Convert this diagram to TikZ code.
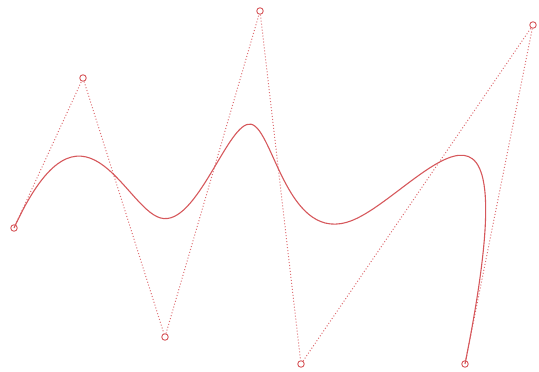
\documentclass[tikz,border=0pt]{standalone}
\definecolor{curvecol}{RGB}{214,88,92}
\definecolor{polycol}{RGB}{222,110,115}
\begin{document}
\begin{tikzpicture}[x=1pt,y=-1pt,
  ctrl/.style={circle,draw=curvecol,line width=0.9pt,minimum size=6.5pt,inner sep=0pt},
  poly/.style={draw=polycol,line width=1pt,dash pattern=on 1pt off 2pt},
  curve/.style={draw=curvecol,line width=1.1pt}]
\useasboundingbox (0,0) rectangle (539,372);
\node[ctrl] (p0) at (14,228) {};
\node[ctrl] (p1) at (83,78) {};
\node[ctrl] (p2) at (165,337) {};
\node[ctrl] (p3) at (260,11) {};
\node[ctrl] (p4) at (301,364) {};
\node[ctrl] (p5) at (533,25) {};
\node[ctrl] (p6) at (465,364) {};
\draw[poly] (p0) -- (p1) -- (p2) -- (p3) -- (p4) -- (p5) -- (p6);
\coordinate (b1) at (160.33,217.92);
\coordinate (b2) at (251,124.17);
\coordinate (b3) at (352.17,220.42);
\draw[curve] (p0.center) .. controls (83,78) and (124,207.5) .. (b1)
  .. controls (196.67,228.33) and (228.33,119.67) .. (b2)
  .. controls (273.67,128.67) and (287.33,246.33) .. (b3)
  .. controls (417,194.5) and (533,25) .. (p6.center);
\end{tikzpicture}
\end{document}
